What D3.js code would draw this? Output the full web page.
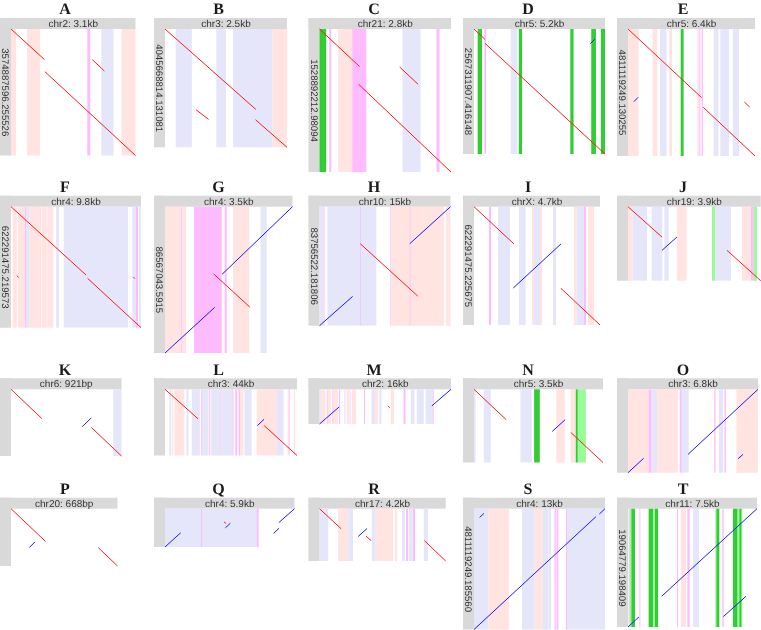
<!DOCTYPE html>
<html><head><meta charset="utf-8">
<script src="https://cdn.jsdelivr.net/npm/d3@7"></script>
<style>html,body{margin:0;padding:0;background:#fff}svg{display:block;filter:blur(0.4px)}text{text-rendering:geometricPrecision}</style>
</head><body><svg id="chart" width="761" height="630"></svg>
<script>
// Panel facts
const letters = ["A","B","C","D","E","F","G","H","I","J","K","L","M","N","O","P","Q","R","S","T"];
const windows = ["chr2: 3.1kb","chr3: 2.5kb","chr21: 2.8kb","chr5: 5.2kb","chr5: 6.4kb","chr4: 9.8kb","chr4: 3.5kb","chr10: 15kb","chrX: 4.7kb","chr19: 3.9kb","chr6: 921bp","chr3: 44kb","chr2: 16kb","chr5: 3.5kb","chr3: 6.8kb","chr20: 668bp","chr4: 5.9kb","chr17: 4.2kb","chr4: 13kb","chr11: 7.5kb"];
const contigs = ["3574887596.255526","4045668814.131081","1528892212.98094","2567311907.416148","4811119249.130255","622291475.219573","86567043.5915","83756522.181806","622291475.225675","","","","","","","","","","4811119249.185560","19064779.198409"];

// Repeat bands: [kind, start %, end %] along the reference window
const bandsA = [["sine",0,4],["sine",12.9,23.4],["ltr",61.3,63.7],["line",72.6,82.3],["sine",88.7,100]];
const bandsB = [["line",8.8,22],["line",42,50],["line",55.8,88.2],["sine",88.2,100]];
const bandsC = [["sat",0,5.1],["ltr",7.4,8.9],["sine",14.2,24.9],["ltr",24.9,35.6],["line",63.1,76.8],["ltr",89,91.3]];
const bandsD = [["sat",2.8,6.1],["ltr",7.9,9.2],["line",28,33.2],["sat",34.2,36.7],["sat",73.5,76],["sat",89.5,93.1],["sat",96.9,100]];
const bandsE = [["sine",0,8.4],["sine",19.4,23.1],["line",25.2,30.4],["sine",32.5,34.6],["sat",41.5,43.8],["sine",54.6,56.2],["ltr",56.2,57],["ltr",58,59],["line",67.5,71.2],["line",72.7,79.5],["line",82.6,87.4]];
const bandsF = [["sine",1.3,4.4],["sine",5.1,11],["ltr",10.8,11.6],["line",11.6,14.1],["sine",14.1,23.4],["sine",23.7,27.5],["sine",28,32.6],["line",34.7,37],["line",40.6,90],["line",93.3,96],["ltr",96,97.7],["line",98.5,100]];
const bandsG = [["sine",0,12.8],["ltr",12.8,13.6],["sine",13.6,16.5],["ltr",22.8,44.5],["ltr",46.8,48.4],["sine",53.4,66],["line",74.9,79.8]];
const bandsH = [["line",0,3.1],["ltr",3.1,3.8],["line",6.1,43.4],["ltr",31.1,31.6],["ltr",54.1,54.8],["sine",54.8,94.9],["ltr",68.9,69.4],["sine",96.7,100]];
const bandsI = [["ltr",11.9,13.5],["line",19,28.6],["line",35.7,41],["sine",46,47.6],["line",47.6,52.4],["sine",52.4,54],["line",62.7,65.1],["sine",79.4,81.5],["line",81.5,87.3],["ltr",87.3,88.9],["sine",90.5,95.2]];
const bandsJ = [["sine",0,3.5],["line",3.5,14.3],["line",17.8,25.9],["line",27.4,30.7],["sine",36.9,44.2],["simple",63.3,65.6],["line",65.6,77.6],["sine",85.9,92.7],["ltr",92.7,94.7],["simple",94.7,97.2]];
const bandsK = [["line",92.5,100]];
const bandsL = [["line",3.3,4.6],["sine",5.1,6.1],["sine",7.1,14.7],["line",16.2,17.8],["line",20.3,26.4],["ltr",27.2,27.9],["line",27.9,33],["ltr",33.5,34.3],["line",35,41.6],["ltr",41.9,42.6],["line",42.6,50.8],["ltr",51,51.8],["ltr",53.3,54.6],["ltr",55.8,56.9],["sine",56.9,59.4],["line",60.2,65.7],["sine",69.5,84.8],["line",84.8,89.8],["sine",92.9,93.9],["ltr",93.9,94.4],["sine",97.5,98.5]];
const bandsM = [["line",0,1],["sine",1,4.5],["ltr",5.6,6.3],["sine",6.3,8.6],["ltr",9.8,10.6],["sine",10.6,13.9],["ltr",14.9,15.7],["line",18.9,19.9],["sine",20.7,22.7],["ltr",23,23.5],["sine",24.7,27.8],["ltr",33.8,34.6],["line",39.6,42.2],["sine",42.2,44.7],["line",45.5,47.2],["sine",54.3,56.6],["ltr",63.9,65.4],["line",69.4,72.2],["line",74,79.3],["line",80.6,86.4],["ltr",86.4,86.9]];
const bandsN = [["line",0,1.3],["line",7.6,13],["line",36,44.8],["sat",46.6,51],["sine",63.8,70.3],["sine",75,78.9],["sat",78.9,80.5],["simple",80.5,86.7]];
const bandsO = [["sine",0,15.8],["ltr",15.8,18.1],["line",18.1,22.4],["sine",22.4,38.3],["ltr",39.8,41.3],["line",41.3,46.7],["ltr",66.3,67.3],["line",69.9,73.2],["ltr",74.2,75.3],["sine",83.4,100]];
const bandsP = [];
const bandsQ = [["line",0,72.2],["ltr",27.8,28.6],["ltr",70.9,72.2]];
const bandsR = [["line",0,6.9],["sine",14.8,22.7],["line",22.7,26.6],["line",41.4,44.6],["sine",44.6,58.3],["sine",59.9,61.5],["line",65.4,67.8],["ltr",68.6,70.2],["line",71,73.9],["ltr",74.1,75.7],["line",82.6,86]];
const bandsS = [["line",0,10.9],["sine",10.9,26.7],["line",36.6,46.3],["sine",46.3,52.4],["line",52.4,56.5],["line",56.8,58.8],["ltr",61.5,62.5],["ltr",63,64.4],["ltr",70.2,71],["line",71,100]];
const bandsT = [["ltr",0.5,1.3],["simple",1.3,2.6],["sat",2.6,5.4],["ltr",8.8,9.6],["sat",16,19.6],["simple",19.6,20.9],["sat",20.9,23.3],["ltr",38,38.8],["sine",41,45],["ltr",46,47.8],["line",50.4,55],["simple",67.7,68.5],["sat",68.5,70.8],["ltr",73.1,74.2],["sat",81.4,85],["simple",85,86.3],["sat",86.3,88.1],["simple",88.1,88.6]];

// Alignments: [ref start %, query start %, ref end %, query end %]
const alignA = [[0,0,26.9,24.2],[65.3,24.2,75,33.2],[27.2,33.7,100,100]];
const alignB = [[0,0,74.5,68],[25.5,68.3,35.7,76.4],[74.2,76.7,100,100]];
const alignC = [[0,0,30.5,26.3],[61,26.6,75,38.7],[29.8,38.7,100,100]];
const alignD = [[0,0,8.4,8.3],[8.4,11.5,100,100],[88.8,11.7,92.1,8.3]];
const alignE = [[0,0,58,54.1],[59.3,61.7,100,100],[91.6,57.5,95.8,61.4],[4.7,57.2,7.9,53.8]];
const alignF = [[0,0,57.8,56.5],[58.9,59.2,100,100],[4.4,57,5.9,58.4],[94.1,58.1,95.4,59.5]];
const alignG = [[0,100,39,68.8],[44.8,46.2,100,0],[38.2,46,66.5,68.6]];
const alignH = [[0,100,25.3,75.4],[68.9,31.1,100,0],[31.1,31.1,75,75.1]];
const alignI = [[0,0,31.7,31.5],[31.2,68.7,69,31.5],[69,69,100,100]];
const alignJ = [[0,0,25.6,41],[25.6,59,36.9,41],[74.6,59,100,100]];
const alignK = [[0,0,28,44],[64.5,56,72.6,43],[72.6,57,100,100]];
const alignL = [[0,0,25.1,44.7],[70,54.8,75.1,45.2],[75.1,54.8,100,100]];
const alignM = [[0,100,14.9,51],[85.4,48,100,0],[52,48,53.5,53]];
const alignN = [[0,0,25,41.6],[60.7,57.5,70.6,41.6],[75,58.9,100,100]];
const alignO = [[0,100,12,82.8],[46.2,78,100,0],[84.7,83.2,88.5,78]];
const alignP = [[0,0,32.5,57.3],[17.2,67.8,22.5,57.9],[81.9,67.8,100,100]];
const alignQ = [[0,100,12.1,62.9],[46.6,50,50.5,37.9],[45.6,34.5,47.2,38.8],[83.8,64.7,88.1,50.9],[87.9,36.2,100,0]];
const alignR = [[0,0,17.2,38.5],[30.6,53.2,37.7,37.8],[36.9,52.6,40.9,60.9],[83.1,60.9,100,100]];
const alignS = [[0,100,93.1,6.6],[95.7,4.4,100,0],[4.3,7.2,7.6,3.9]];
const alignT = [[0,100,8.5,91.5],[26.1,74,100,0],[73.9,91.2,91.5,74]];

const allBands = [bandsA,bandsB,bandsC,bandsD,bandsE,bandsF,bandsG,bandsH,bandsI,bandsJ,bandsK,bandsL,bandsM,bandsN,bandsO,bandsP,bandsQ,bandsR,bandsS,bandsT];
const allAlign = [alignA,alignB,alignC,alignD,alignE,alignF,alignG,alignH,alignI,alignJ,alignK,alignL,alignM,alignN,alignO,alignP,alignQ,alignR,alignS,alignT];

// Layout
const colLeft = [0,154,308.5,463,617];
const titleX = [65,218.5,374,528,683];
const rowTop = [18,195.7,378.3,497.7];
const titleBase = [14,192,374.5,494];
const barSize = 11;
const plotRight = [135.5,287,451,605,755,141,292.5,450.5,600,760.7,121.5,297,451,603,758,117.5,294.5,445.7,605,757];
const plotBottom = [155.5,147.3,172,154,156,327.7,353,325.7,325,280.7,456,455.5,424,462.5,472.7,566,547,561,629.5,627];

const kindColor = d3.scaleOrdinal(["sine","line","ltr","sat","simple"],["#ffe4e1","#e6e6fa","#ffbbff","#32cd32","#98fb98"]);
const strandColor = d => (d[3] >= d[1]) ? "#ff1a1a" : "#1a1aff";

const svg = d3.select("#chart");
const panelIndex = d3.range(letters.length);

const panels = svg.selectAll("g.panel").data(panelIndex).join("g").attr("class","panel")
  .each(function(i){
    const g = d3.select(this);
    const col = i % 5, row = Math.floor(i / 5);
    const left = colLeft[col], top = rowTop[row];
    const x0 = left + barSize, y0 = top + barSize;
    const x = d3.scaleLinear().domain([0,100]).range([x0, plotRight[i]]);
    const y = d3.scaleLinear().domain([0,100]).range([y0, plotBottom[i]]);

    g.append("text").attr("x",titleX[col]).attr("y",titleBase[row]).attr("text-anchor","middle")
      .attr("font-family","'Liberation Serif',serif").attr("font-weight","bold").attr("font-size",16).attr("fill","#1a1a1a").text(letters[i]);

    g.append("rect").attr("x",left).attr("y",top).attr("width",plotRight[i]-left).attr("height",barSize).attr("fill","#d9d9d9");
    g.append("rect").attr("x",left).attr("y",top).attr("width",barSize).attr("height",plotBottom[i]-top).attr("fill","#d9d9d9");

    g.append("text").attr("x",(x0+plotRight[i])/2).attr("y",top+barSize/2+3.5).attr("text-anchor","middle")
      .attr("font-family","'Liberation Sans',sans-serif").attr("font-size",10).attr("fill","#333").text(windows[i]);

    if (contigs[i]) {
      const cy = (y0+plotBottom[i])/2;
      g.append("text").attr("transform",`translate(${left+2},${cy}) rotate(90)`).attr("text-anchor","middle")
        .attr("font-family","'Liberation Sans',sans-serif").attr("font-size",9.6).attr("fill","#333").text(contigs[i]);
    }

    g.selectAll("rect.band").data(allBands[i]).join("rect").attr("class","band")
      .attr("x",d=>x(d[1])).attr("y",y0).attr("width",d=>x(d[2])-x(d[1])).attr("height",plotBottom[i]-y0)
      .attr("fill",d=>kindColor(d[0]));

    g.selectAll("line.aln").data(allAlign[i]).join("line").attr("class","aln")
      .attr("x1",d=>x(d[0])).attr("y1",d=>y(d[1])).attr("x2",d=>x(d[2])).attr("y2",d=>y(d[3]))
      .attr("stroke",strandColor).attr("stroke-width",1);
  });
</script></body></html>
